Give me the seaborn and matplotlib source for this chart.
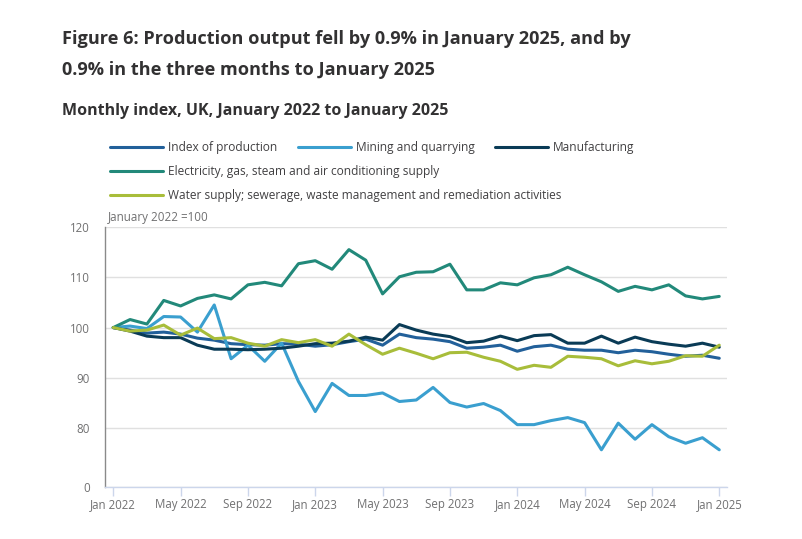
import matplotlib
matplotlib.use('Agg')
import numpy as np
import pandas as pd
import matplotlib.pyplot as plt
from matplotlib.lines import Line2D
import seaborn as sns

# monthly index values, January 2022 = 100
months = pd.date_range('2022-01-01', '2025-01-01', freq='MS')
index_of_production = [100.0, 99.5, 98.9, 99.1, 98.7, 97.9, 97.5, 96.8, 96.6, 96.5, 96.8, 96.7,
                       96.3, 96.6, 97.2, 97.7, 96.5, 98.7, 98.0, 97.7, 97.2, 95.9, 96.1, 96.5,
                       95.3, 96.2, 96.5, 95.7, 95.5, 95.5, 95.0, 95.5, 95.2, 94.7, 94.3, 94.5, 93.9]
mining = [100.0, 100.3, 99.8, 102.2, 102.1, 99.1, 104.5, 93.8, 96.5, 93.3, 96.9, 89.3,
          83.3, 88.9, 86.5, 86.5, 87.0, 85.3, 85.6, 88.1, 85.1, 84.2, 84.9, 83.5,
          80.7, 80.7, 81.5, 82.1, 81.1, 75.7, 81.0, 77.8, 80.7, 78.3, 77.0, 78.1, 75.7]
manufacturing = [100.0, 99.3, 98.3, 98.0, 98.0, 96.5, 95.7, 95.7, 95.6, 95.7, 95.9, 96.3,
                 96.8, 96.9, 97.3, 98.1, 97.5, 100.6, 99.5, 98.7, 98.2, 97.0, 97.3, 98.3,
                 97.4, 98.4, 98.6, 96.9, 96.9, 98.3, 96.9, 98.1, 97.2, 96.7, 96.3, 96.9, 96.1]
electricity = [100.0, 101.6, 100.7, 105.4, 104.3, 105.8, 106.5, 105.7, 108.5, 109.0, 108.3, 112.7,
               113.3, 111.6, 115.5, 113.4, 106.7, 110.1, 111.0, 111.1, 112.6, 107.5, 107.5, 108.9,
               108.5, 109.9, 110.5, 112.0, 110.5, 109.1, 107.2, 108.2, 107.5, 108.5, 106.3, 105.7, 106.2]
water = [100.0, 99.3, 99.5, 100.5, 98.5, 99.9, 97.8, 98.0, 96.9, 96.3, 97.6, 97.0,
         97.6, 96.3, 98.7, 96.6, 94.7, 95.9, 94.9, 93.8, 95.0, 95.1, 94.1, 93.3,
         91.7, 92.5, 92.1, 94.3, 94.1, 93.8, 92.4, 93.4, 92.8, 93.3, 94.4, 94.3, 96.5]

series_names = ['Index of production', 'Mining and quarrying', 'Manufacturing',
                'Electricity, gas, steam and air conditioning supply',
                'Water supply; sewerage, waste management and remediation activities']
series_colours = ['#22609a', '#3a9fcf', '#0a3b56', '#22897a', '#a8bd3a']
ytick_values = [68.3, 80, 90, 100, 110, 120]
ytick_labels = ['0', '80', '90', '100', '110', '120']

sns.set_theme(style='white')
plt.rcParams['font.family'] = ['Open Sans', 'DejaVu Sans']

df = pd.DataFrame({'month_num': np.arange(len(months)),
                   series_names[0]: index_of_production,
                   series_names[1]: mining,
                   series_names[2]: manufacturing,
                   series_names[3]: electricity,
                   series_names[4]: water})
long_df = df.melt(id_vars='month_num', var_name='series', value_name='value')

W, H = 802, 539
fig = plt.figure(figsize=(W / 100, H / 100), dpi=100)
ax = fig.add_axes([105 / W, 1 - 487 / H, (727 - 105) / W, (487 - 227) / H])

sns.lineplot(data=long_df, x='month_num', y='value', hue='series', hue_order=series_names,
             palette=series_colours, linewidth=2.2, legend=False, ax=ax)

ax.set_xlim(-0.49, 36.46)
ax.set_ylim(ytick_values[0], ytick_values[-1])
ax.set_yticks(ytick_values)
ax.set_yticklabels(ytick_labels)
tick_pos = np.arange(0, len(months), 4)
ax.set_xticks(tick_pos)
ax.set_xticklabels([months[i].strftime('%b %Y') for i in tick_pos])
ax.set_xlabel('')
ax.set_ylabel('')

ax.yaxis.grid(True, color='#e0e0e0', linewidth=1)
ax.xaxis.grid(False)
for side in ['top', 'right']:
    ax.spines[side].set_visible(False)
ax.spines['left'].set_color('#8a8a8a')
ax.spines['left'].set_linewidth(1)
ax.spines['bottom'].set_color('#ccd6eb')
ax.spines['bottom'].set_linewidth(1)
ax.tick_params(axis='y', length=0, pad=11, labelsize=8.3, labelcolor='#707071')
ax.tick_params(axis='x', length=6.5, width=1, color='#ccd6eb', direction='out', pad=1.5,
               labelsize=8.3, labelcolor='#707071', bottom=True)

ax.text(0.005, 1.01, 'January 2022 =100', transform=ax.transAxes,
        fontsize=8.4, color='#707071', ha='left', va='bottom')

# titles
fig.text(62 / W, 1 - 43.5 / H, 'Figure 6: Production output fell by 0.9% in January 2025, and by',
         fontsize=13.1, fontweight='bold', color='#323132', ha='left', va='baseline')
fig.text(62 / W, 1 - 75 / H, '0.9% in the three months to January 2025',
         fontsize=13.1, fontweight='bold', color='#323132', ha='left', va='baseline')
fig.text(62 / W, 1 - 115 / H, 'Monthly index, UK, January 2022 to January 2025',
         fontsize=11.5, fontweight='bold', color='#323132', ha='left', va='baseline')

# legend drawn as rows
legend_slots = [(110, 147), (298, 147), (495, 147), (110, 171), (110, 195)]
for (lx, ly), name, col in zip(legend_slots, series_names, series_colours):
    fig.add_artist(Line2D([lx / W, (lx + 53) / W], [1 - ly / H, 1 - ly / H],
                          color=col, linewidth=2.2, transform=fig.transFigure))
    fig.text((lx + 58) / W, 1 - ly / H, name, fontsize=8.6, color='#414042',
             ha='left', va='center')

fig.savefig('out.png', dpi=100)
